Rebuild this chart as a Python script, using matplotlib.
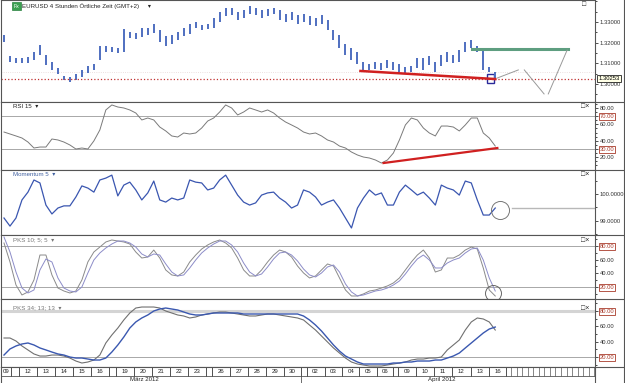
import numpy as np
import matplotlib.pyplot as plt
from matplotlib.lines import Line2D
from matplotlib.patches import Rectangle
from matplotlib.ticker import AutoMinorLocator

plt.rcParams['font.family'] = ['Liberation Sans', 'DejaVu Sans']

# EURUSD 4h, ein Wert je zweitem Balken (x in Balken-Einheiten)
hoch = [1.3237, 1.3136, 1.3126, 1.3126, 1.3131, 1.3155, 1.3189, 1.3140, 1.3107, 1.3078,
        1.3039, 1.3034, 1.3049, 1.3068, 1.3087, 1.3097, 1.3184, 1.3184, 1.3179, 1.3174,
        1.3266, 1.3251, 1.3247, 1.3271, 1.3271, 1.3290, 1.3261, 1.3232, 1.3237, 1.3251,
        1.3271, 1.3290, 1.3300, 1.3285, 1.3290, 1.3319, 1.3348, 1.3367, 1.3367, 1.3348,
        1.3358, 1.3377, 1.3367, 1.3358, 1.3363, 1.3367, 1.3358, 1.3338, 1.3348, 1.3334,
        1.3338, 1.3329, 1.3319, 1.3334, 1.3309, 1.3261, 1.3237, 1.3193, 1.3174, 1.3155,
        1.3107, 1.3097, 1.3107, 1.3102, 1.3116, 1.3107, 1.3097, 1.3082, 1.3087, 1.3126,
        1.3126, 1.3136, 1.3107, 1.3140, 1.3155, 1.3140, 1.3164, 1.3203, 1.3213, 1.3184,
        1.3169, 1.3082, 1.3058]
tief = [1.3203, 1.3107, 1.3102, 1.3102, 1.3102, 1.3116, 1.3140, 1.3092, 1.3068, 1.3049,
        1.3020, 1.3010, 1.3020, 1.3034, 1.3053, 1.3068, 1.3116, 1.3155, 1.3155, 1.3150,
        1.3155, 1.3222, 1.3218, 1.3227, 1.3237, 1.3247, 1.3203, 1.3184, 1.3193, 1.3213,
        1.3232, 1.3242, 1.3271, 1.3261, 1.3266, 1.3271, 1.3300, 1.3329, 1.3334, 1.3309,
        1.3319, 1.3338, 1.3334, 1.3319, 1.3329, 1.3338, 1.3309, 1.3300, 1.3309, 1.3290,
        1.3300, 1.3285, 1.3280, 1.3290, 1.3261, 1.3213, 1.3174, 1.3140, 1.3116, 1.3097,
        1.3068, 1.3068, 1.3073, 1.3068, 1.3078, 1.3068, 1.3058, 1.3053, 1.3058, 1.3078,
        1.3068, 1.3092, 1.3058, 1.3087, 1.3107, 1.3102, 1.3107, 1.3155, 1.3174, 1.3155,
        1.3068, 1.3058, 1.3020]
rsi = [50.7, 48.3, 45.9, 43.4, 38.5, 31.2, 32.4, 32.4, 42.2, 41.0,
       38.5, 34.9, 30.0, 31.2, 30.0, 39.8, 53.2, 77.6, 83.7, 81.2,
       80.0, 77.6, 73.9, 65.4, 67.8, 65.4, 56.8, 52.0, 45.9, 44.6,
       49.5, 48.3, 49.5, 55.6, 64.1, 67.8, 75.1, 83.7, 80.0, 71.5,
       75.1, 80.0, 77.6, 75.1, 77.6, 73.9, 67.8, 62.9, 59.3, 55.6,
       50.7, 48.3, 49.5, 45.9, 41.0, 38.5, 33.6, 31.2, 26.3, 22.7,
       20.2, 19.0, 16.6, 12.9, 16.6, 25.1, 41.0, 59.3, 67.8, 65.4,
       55.6, 49.5, 45.9, 58.0, 58.0, 56.8, 52.0, 59.3, 67.8, 67.8,
       49.5, 43.4, 33.6]
momentum = [99.11, 98.81, 99.11, 99.78, 100.07, 100.52, 100.41, 99.59, 99.26, 99.48,
            99.56, 99.56, 99.89, 100.30, 100.22, 100.07, 100.52, 100.59, 100.70, 99.93,
            100.33, 100.44, 100.15, 99.78, 100.04, 100.48, 99.78, 99.70, 99.85, 99.78,
            99.85, 100.52, 100.44, 100.41, 100.15, 100.22, 100.52, 100.70, 100.33, 99.96,
            99.70, 99.59, 99.67, 99.96, 100.04, 100.07, 99.85, 99.70, 99.48, 99.59,
            100.15, 100.07, 99.89, 99.59, 99.70, 99.78, 99.48, 99.11, 98.74, 99.48,
            99.85, 100.15, 99.96, 100.04, 99.59, 99.59, 100.07, 100.33, 100.15, 99.96,
            100.07, 99.85, 99.59, 100.33, 100.22, 100.15, 99.96, 100.48, 100.41, 99.78,
            99.22, 99.22, 99.48]
pks1_k = [84.4, 56.6, 22.9, 8.3, 12.7, 30.2, 66.8, 66.8, 37.6, 18.5,
          14.1, 11.2, 14.1, 30.2, 56.6, 71.2, 78.5, 85.9, 88.8, 87.3,
          85.9, 82.9, 71.2, 62.4, 63.9, 74.1, 62.4, 44.9, 37.6, 36.1,
          41.9, 56.6, 66.8, 75.6, 81.5, 85.9, 88.8, 84.4, 77.1, 62.4,
          44.9, 36.1, 36.1, 44.9, 56.6, 66.8, 74.1, 71.2, 63.9, 50.7,
          40.5, 33.2, 36.1, 44.9, 53.7, 50.7, 33.2, 15.6, 6.8, 6.8,
          9.8, 14.1, 15.6, 18.5, 21.5, 25.9, 33.2, 44.9, 56.6, 66.8,
          74.1, 62.4, 41.9, 44.9, 62.4, 62.4, 66.8, 74.1, 78.5, 75.6,
          47.8, 15.6, 6.8]
pks1_d = [93.2, 71.2, 41.9, 18.5, 11.2, 15.6, 44.9, 61.0, 56.6, 33.2,
          18.5, 14.1, 12.7, 20.0, 40.5, 59.5, 69.8, 77.1, 82.9, 87.3,
          87.3, 84.4, 78.5, 68.3, 63.9, 68.3, 66.8, 53.7, 41.9, 36.1,
          37.6, 47.8, 59.5, 69.8, 77.1, 82.9, 87.3, 87.3, 81.5, 71.2,
          55.1, 41.9, 36.1, 39.0, 49.3, 61.0, 69.8, 71.2, 66.8, 58.0,
          46.3, 37.6, 34.6, 40.5, 49.3, 52.2, 41.9, 24.4, 12.7, 6.8,
          8.3, 11.2, 14.1, 15.6, 18.5, 22.9, 28.8, 39.0, 50.7, 61.0,
          66.8, 59.5, 47.8, 47.8, 55.1, 59.5, 62.4, 69.8, 75.6, 77.1,
          59.5, 33.2, 14.1]
pks2_k = [44.8, 44.8, 40.9, 34.4, 29.2, 24.0, 21.3, 21.3, 22.6, 22.6,
          21.3, 18.7, 14.8, 12.2, 13.5, 16.1, 22.6, 38.3, 48.7, 57.8,
          68.3, 77.4, 83.9, 85.2, 85.2, 85.2, 83.9, 80.0, 77.4, 74.8,
          73.5, 70.9, 72.2, 74.8, 76.1, 77.4, 78.7, 78.7, 77.4, 76.1,
          74.8, 73.5, 73.5, 74.8, 76.1, 76.1, 74.8, 73.5, 72.2, 70.9,
          68.3, 61.7, 55.2, 47.4, 39.6, 31.8, 25.2, 18.7, 13.5, 10.9,
          9.6, 8.3, 8.3, 8.3, 9.6, 10.9, 12.2, 13.5, 16.1, 17.4,
          17.4, 18.7, 18.7, 20.0, 29.2, 35.7, 42.2, 55.2, 65.7, 70.9,
          69.6, 65.7, 55.2]
pks2_d = [22.6, 30.5, 34.4, 37.0, 38.3, 35.7, 31.8, 29.2, 26.5, 24.0,
          22.6, 20.0, 18.7, 18.7, 17.4, 16.1, 16.1, 18.7, 26.5, 35.7,
          46.1, 57.8, 65.7, 70.9, 74.8, 80.0, 82.6, 83.9, 82.6, 81.3,
          78.7, 76.1, 74.8, 74.8, 76.1, 77.4, 77.4, 77.4, 77.4, 77.4,
          76.1, 76.1, 76.1, 76.1, 76.1, 76.1, 76.1, 76.1, 76.1, 76.1,
          73.5, 68.3, 61.7, 53.9, 44.8, 35.7, 27.8, 21.3, 17.4, 13.5,
          10.9, 10.9, 10.9, 10.9, 10.9, 12.2, 12.2, 13.5, 13.5, 14.8,
          14.8, 14.8, 16.1, 16.1, 18.7, 21.3, 25.2, 31.8, 38.3, 44.8,
          51.3, 56.5, 59.1]

x = np.arange(len(hoch)) * 2 + 1
kurs = 1.30253

tage = ['09', '12', '13', '14', '15', '16', '19', '20', '21', '22', '23',
        '26', '27', '28', '29', '30', '02', '03', '04', '05', '06',
        '09', '10', '11', '12', '13', '16']
tage_pos = [1.7, 9, 15, 21, 27, 33, 41.5, 47.5, 53.5, 59.5, 65.5,
            73.5, 79.5, 85.5, 91.5, 97.2, 105, 111, 117, 122.5, 128.3,
            135.5, 141.5, 147.5, 153.7, 160, 165.8]
tag_grenzen = [3.3, 6, 12, 18, 24, 30, 36, 38.5, 44.5, 50.5, 56.5, 62.5, 68.5,
               70.5, 76.5, 82.5, 88.5, 94.5, 100, 102, 108, 114, 119.5, 125.5,
               131, 132.5, 138.5, 144.5, 150.5, 157, 163, 168.5]
monate = ['März 2012', 'April 2012']
monate_pos = [48, 147]

W, H = 625.0, 383.0
XMAX = 198.3
fig = plt.figure(figsize=(W / 100, H / 100), dpi=100)


def panel(top, bottom, ylim):
    ax = fig.add_axes([1 / W, 1 - bottom / H, 594 / W, (bottom - top) / H])
    ax.set_xlim(0, XMAX)
    ax.set_ylim(*ylim)
    ax.set_xticks([])
    ax.yaxis.tick_right()
    ax.yaxis.set_minor_locator(AutoMinorLocator(2))
    ax.tick_params(axis='y', which='major', direction='out', length=2.0, width=0.6,
                   labelsize=4.2, pad=1.2, colors='#333333')
    ax.tick_params(axis='y', which='minor', direction='out', length=1.3, width=0.5)
    for s in ax.spines.values():
        s.set_color('#555555')
        s.set_linewidth(0.8)
    return ax


def box_labels(ax, boxed):
    for lbl in ax.get_yticklabels():
        if lbl.get_text() in boxed:
            lbl.set_color('#a83a2a')
            lbl.set_bbox(dict(boxstyle='square,pad=0.15', fc='white', ec='#a83a2a', lw=0.6))


grau = '#a8a8a8'

# Kurs
ax0 = panel(0, 102, (1.2913, 1.3406))
ax0.axhline(1.3058, color='#e6d6d6', lw=0.6, ls=':')
ax0.vlines(x, tief, hoch, color='#4f6fc0', lw=1.4)
ax0.axhline(kurs, color='#c03030', lw=0.9, ls=':')
ax0.plot([120, 165], [1.3063, 1.3024], color='#d02020', lw=1.8)
ax0.plot([157.3, 189.3], [1.3169, 1.3169], color='#5e9e80', lw=2.2)
ax0.plot([165.7, 172.7], [1.3029, 1.3068], color='#999999', lw=0.7)
ax0.plot([174.7, 181.3], [1.3068, 1.2952], color='#999999', lw=0.7)
ax0.plot([182.7, 189], [1.2952, 1.3164], color='#999999', lw=0.7)
ax0.add_patch(Rectangle((162.3, 1.3005), 2.4, 0.0044, fill=False, ec='#2a2a9a', lw=1.0))
ax0.set_yticks([1.30, 1.31, 1.32, 1.33], ['1.30000', '1.31000', '1.32000', '1.33000'])
ax0.text(1.006, kurs, '1.30253', transform=ax0.get_yaxis_transform(), fontsize=4.2,
         ha='left', va='center', zorder=5,
         bbox=dict(boxstyle='square,pad=0.2', fc='#ffffe6', ec='#222222', lw=0.6))

# RSI
ax1 = panel(102, 170, (4.4, 87.3))
for lv in (70, 30):
    ax1.axhline(lv, color=grau, lw=0.7)
ax1.plot(x, rsi, color='#7a7a7a', lw=0.7)
ax1.plot([127.7, 165.7], [12.9, 31.2], color='#d02020', lw=1.6)
ax1.set_yticks([20, 30, 40, 60, 70, 80], ['20.00', '30.00', '40.00', '60.00', '70.00', '80.00'])
box_labels(ax1, ['70.00', '30.00'])

# Momentum
ax2 = panel(170, 235, (98.48, 100.89))
ax2.plot(x, momentum, color='#3a56b0', lw=0.9)
ax2.plot([166.7], [99.41], 'o', ms=13, mfc='none', mec='#777777', mew=0.7)
ax2.plot([170.7, XMAX], [99.48, 99.48], color='#b8b8b8', lw=1.0)
ax2.set_yticks([99, 100], ['99.0000', '100.0000'])

# PKS 10;5;5
ax3 = panel(235, 299, (2.4, 96.1))
for lv in (80, 20):
    ax3.axhline(lv, color=grau, lw=0.7)
ax3.plot(x, pks1_k, color='#8a8a8a', lw=0.7)
ax3.plot(x, pks1_d, color='#8c8cc8', lw=0.7)
ax3.plot([164.3], [11.2], 'o', ms=11.5, mfc='none', mec='#666666', mew=0.7)
ax3.set_yticks([20, 40, 60, 80], ['20.00', '40.00', '60.00', '80.00'])
box_labels(ax3, ['80.00', '20.00'])

# PKS 34;13;13
ax4 = panel(299, 367, (7.0, 95.65))
ax4.axhline(80, color='#d4d4d4', lw=2.2)
ax4.axhline(20, color=grau, lw=0.7)
ax4.plot(x, pks2_k, color='#707070', lw=0.8)
ax4.plot(x, pks2_d, color='#3a58b0', lw=1.0)
ax4.set_yticks([20, 40, 60, 80], ['20.00', '40.00', '60.00', '80.00'])
box_labels(ax4, ['80.00', '20.00'])

# Datumsleiste
axd = fig.add_axes([1 / W, 0, 594 / W, 16 / H])
axd.set_xlim(0, XMAX)
axd.set_ylim(0, 1)
axd.set_xticks([])
axd.set_yticks([])
for s in axd.spines.values():
    s.set_color('#555555')
    s.set_linewidth(0.8)
axd.spines['bottom'].set_visible(False)
axd.axhline(0.44, color='#555555', lw=0.6)
axd.vlines(tag_grenzen, 0.44, 1, color='#333333', lw=0.6)
axd.vlines(np.arange(170.3, XMAX, 1.85), 0.44, 1, color='#555555', lw=0.5)
axd.vlines([100], 0, 0.44, color='#555555', lw=0.6)
for t, p in zip(tage, tage_pos):
    axd.text(p, 0.72, t, fontsize=4.4, ha='center', va='center', color='#222222')
for m, p in zip(monate, monate_pos):
    axd.text(p, 0.2, m, fontsize=4.4, ha='center', va='center', color='#222222')

# Rahmen rechts
for yy in (102, 170, 235, 299, 367):
    fig.add_artist(Line2D([595 / W, 624 / W], [1 - yy / H] * 2, color='#555555', lw=0.8))
fig.add_artist(Line2D([624 / W, 624 / W], [0, 1], color='#555555', lw=0.8))

# Beschriftungen
fig.text(13.5 / W, 1 - 6 / H, 'Fx', fontsize=3.8, color='white', ha='left', va='center',
         bbox=dict(boxstyle='square,pad=0.25', fc='#3aa050', ec='#2a8040', lw=0.5))
fig.text(22 / W, 1 - 6 / H, 'EURUSD 4 Stunden Örtliche Zeit (GMT+2)     \u25be', fontsize=4.4,
         color='#222222', va='center')
fig.text(13 / W, 1 - 106 / H, 'RSI 15  \u25be', fontsize=4.4, color='#222222', va='center')
fig.text(13 / W, 1 - 174 / H, 'Momentum 5  \u25be', fontsize=4.4, color='#4060a0', va='center')
fig.text(13 / W, 1 - 240 / H, 'PKS 10; 5; 5  \u25be', fontsize=4.4, color='#777777', va='center')
fig.text(13 / W, 1 - 308 / H, 'PKS 34; 13; 13  \u25be', fontsize=4.4, color='#777777', va='center')
fig.text(582 / W, 1 - 5 / H, '\u25a1', fontsize=5, color='#222222', va='center')
for yy in (107, 174, 240, 308):
    fig.text(581 / W, 1 - yy / H, '\u25a1\u00d7', fontsize=5, color='#222222', va='center')

fig.savefig('out.png', dpi=100)
